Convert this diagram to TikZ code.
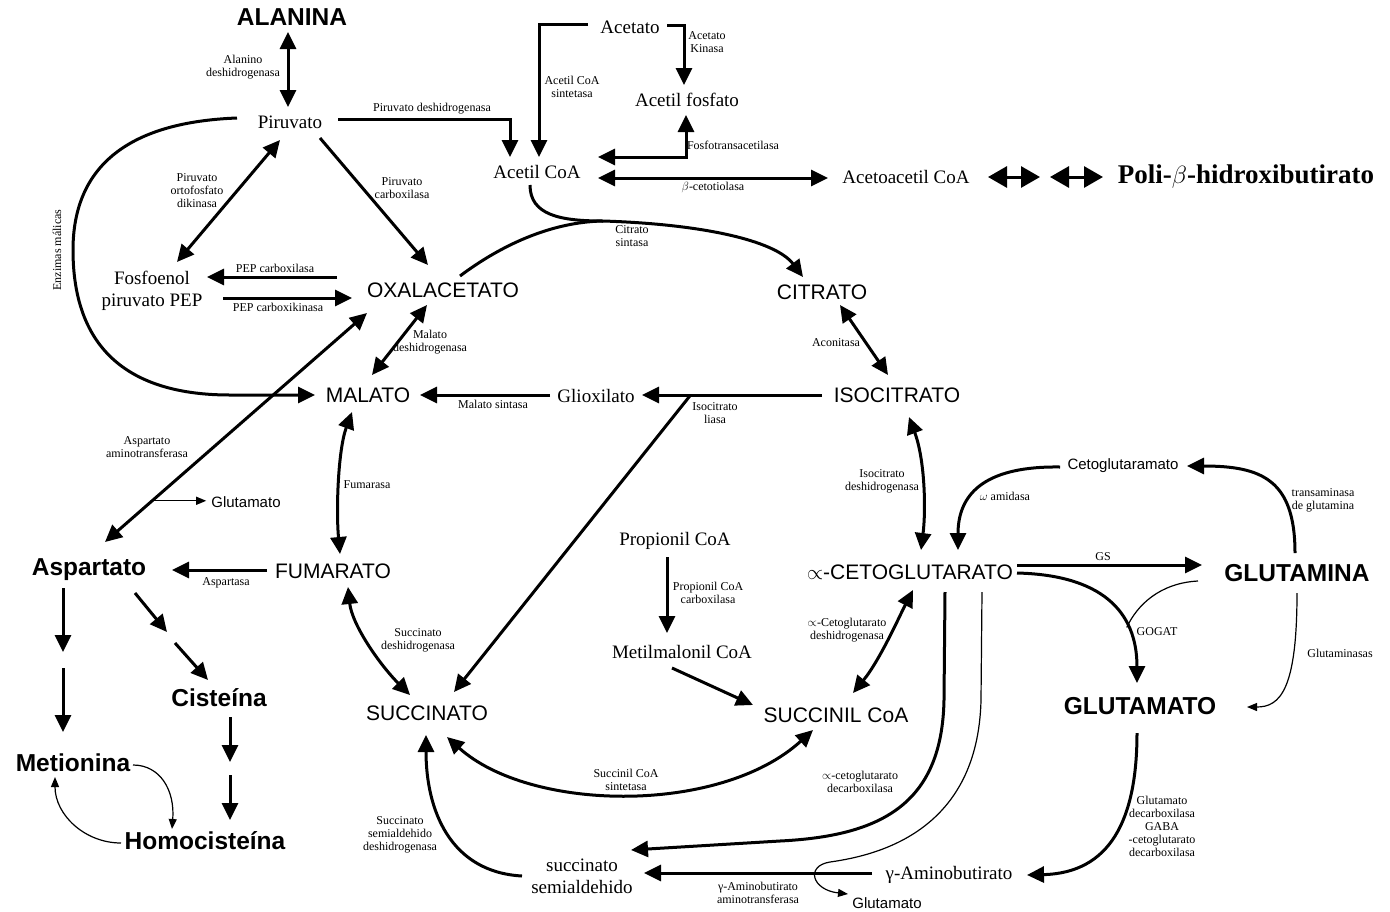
\documentclass[tikz,border=0pt]{standalone}
\usepackage{fontspec}
\setmainfont{Liberation Serif}
\setsansfont{Liberation Sans}
\usetikzlibrary{arrows.meta,calc}

\tikzset{
  metab/.style={font=\sffamily\fontsize{21}{24}\selectfont, inner sep=0pt},
  negrita/.style={font=\sffamily\bfseries\fontsize{24.5}{28}\selectfont, inner sep=0pt},
  serif/.style={font=\rmfamily\fontsize{19}{22}\selectfont, inner sep=0pt, align=center},
  chico/.style={font=\sffamily\fontsize{15}{17}\selectfont, inner sep=0pt},
  enzima/.style={font=\rmfamily\fontsize{12}{13}\selectfont, inner sep=0pt, align=center},
  linea/.style={line width=3pt},
  flecha/.style={line width=3pt, -{Triangle[length=17pt,width=16pt]}},
  doble/.style={line width=3pt, {Triangle[length=17pt,width=16pt]}-{Triangle[length=17pt,width=16pt]}},
  doblegrande/.style={line width=3pt, {Triangle[length=19pt,width=21pt]}-{Triangle[length=19pt,width=21pt]}},
  fina/.style={line width=1.2pt, -{Triangle[length=10pt,width=8pt]}}
}

\begin{document}
\begin{tikzpicture}[x=1pt,y=-1pt]
  \useasboundingbox (0,0) rectangle (1390,911);

  % Metabolitos
  \node[negrita] (ala) at (292,17) {ALANINA};
  \node[serif] (pir) at (290,122) {Piruvato};
  \node[serif] (acet) at (630,27) {Acetato};
  \node[serif] (afos) at (687,100) {Acetil fosfato};
  \node[serif] (acoa) at (537,172) {Acetil CoA};
  \node[serif] (aacoa) at (906,177) {Acetoacetil CoA};
  \node[font=\rmfamily\bfseries\fontsize{27}{30}\selectfont, inner sep=0pt] (phb) at (1246,177) {Poli-$\beta$-hidroxibutirato};
  \node[serif] (pep) at (152,291) {Fosfoenol\\piruvato PEP};
  \node[metab] (oxa) at (443,290) {OXALACETATO};
  \node[metab] (cit) at (822,292) {CITRATO};
  \node[metab] (mal) at (368,395) {MALATO};
  \node[serif] (glx) at (596,396) {Glioxilato};
  \node[metab] (iso) at (897,395) {ISOCITRATO};
  \node[chico] (glu1) at (246,502) {Glutamato};
  \node[negrita] (asp) at (89,570) {Aspartato};
  \node[metab] (fum) at (333,571) {FUMARATO};
  \node[serif] (prop) at (675,541) {Propionil CoA};
  \node[metab] (akg) at (910,572) {$\propto$-CETOGLUTARATO};
  \node[negrita] (gln) at (1297,573) {GLUTAMINA};
  \node[chico] (cgm) at (1123,466) {Cetoglutaramato};
  \node[negrita] (cis) at (219,698) {Cisteína};
  \node[negrita] (met) at (73,763) {Metionina};
  \node[negrita] (hcy) at (205,841) {Homocisteína};
  \node[metab] (suc) at (427,713) {SUCCINATO};
  \node[serif] (mmc) at (682,652) {Metilmalonil CoA};
  \node[metab] (scoa) at (836,715) {SUCCINIL CoA};
  \node[negrita] (glu) at (1140,706) {GLUTAMATO};
  \node[serif] (ssa) at (582,876) {succinato\\semialdehido};
  \node[serif] (gaba) at (949,875) {γ-Aminobutirato};
  \node[chico] (glu2) at (887,903) {Glutamato};

  % Enzimas
  \node[enzima] at (243,67) {Alanino\\deshidrogenasa};
  \node[enzima] at (432,109) {Piruvato deshidrogenasa};
  \node[enzima] at (707,42) {Acetato\\Kinasa};
  \node[enzima] at (572,87) {Acetil CoA\\sintetasa};
  \node[enzima] at (733,145) {Fosfotransacetilasa};
  \node[enzima] at (713,187) {$\beta$-cetotiolasa};
  \node[enzima] at (632,236) {Citrato\\sintasa};
  \node[enzima] at (197,191) {Piruvato\\ortofosfato\\dikinasa};
  \node[enzima] at (402,188) {Piruvato\\carboxilasa};
  \node[enzima, rotate=90] at (57,250) {Enzimas málicas};
  \node[enzima] at (275,268) {PEP carboxilasa};
  \node[enzima] at (278,307) {PEP carboxikinasa};
  \node[enzima] at (430,342) {Malato\\deshidrogenasa};
  \node[enzima] at (493,404) {Malato sintasa};
  \node[enzima] at (836,343) {Aconitasa};
  \node[enzima] at (715,413) {Isocitrato\\liasa};
  \node[enzima] at (882,481) {Isocitrato\\deshidrogenasa};
  \node[enzima] at (147,447) {Aspartato\\aminotransferasa};
  \node[enzima] at (367,485) {Fumarasa};
  \node[enzima] at (226,583) {Aspartasa};
  \node[enzima] at (708,593) {Propionil CoA\\carboxilasa};
  \node[enzima] at (847,630) {$\propto$-Cetoglutarato\\deshidrogenasa};
  \node[enzima] at (418,640) {Succinato\\deshidrogenasa};
  \node[enzima] at (626,780) {Succinil CoA\\sintetasa};
  \node[enzima] at (400,835) {Succinato\\semialdehido\\deshidrogenasa};
  \node[enzima] at (860,782) {$\propto$-cetoglutarato\\decarboxilasa};
  \node[enzima] at (758,893) {γ-Aminobutirato\\aminotransferasa};
  \node[enzima] at (1162,826) {Glutamato\\decarboxilasa\\GABA\\-cetoglutarato\\decarboxilasa};
  \node[enzima] at (1103,557) {GS};
  \node[enzima] at (1157,632) {GOGAT};
  \node[enzima] at (1340,653) {Glutaminasas};
  \node[enzima] at (1323,500) {transaminasa\\de glutamina};
  \node[enzima] at (1005,496) {$\omega$ amidasa};

  % Piruvato y acetil CoA
  \draw[doble] ($(ala)+(-4,15)$) -- ($(pir)+(-2,-15)$);
  \draw[flecha] ($(pir)+(48,-3)$) -| ($(acoa)+(-27,-15)$);
  \draw[flecha] ($(acet)+(-42,-3)$) -| ($(acoa)+(2,-15)$);
  \draw[flecha] ($(acet)+(37,-2)$) -| ($(afos)+(-3,-15)$);
  \draw[doble] ($(afos)+(-1,15)$) |- ($(acoa)+(61,-15)$);
  \draw[doble] ($(acoa)+(61,6)$) -- ($(aacoa)+(-78,1)$);
  \draw[doblegrande] ($(aacoa)+(82,0)$) -- ($(aacoa)+(134,0)$);
  \draw[doblegrande] ($(phb)+(-196,0)$) -- ($(phb)+(-143,0)$);

  % Citrato sintasa
  \coordinate (cs) at (603,221);
  \draw[flecha] ($(acoa)+(-7,13)$) .. controls (530,215) and (560,221) .. (cs)
    .. controls (700,224) and (775,240) .. ($(cit)+(-19,-15)$);
  \draw[linea] ($(oxa)+(17,-14)$) .. controls (500,246) and (550,222) .. (cs);

  % Piruvato, PEP y oxalacetato
  \draw[doble] ($(pir)+(-10,18)$) -- ($(pep)+(25,-29)$);
  \draw[flecha] ($(pir)+(30,16)$) -- ($(oxa)+(-15,-25)$);
  \draw[flecha] ($(pir)+(-53,-4)$) .. controls (130,122) and (73,165) .. (73,250)
    .. controls (73,350) and (130,395) .. (230,395) -- ($(mal)+(-53,0)$);
  \draw[flecha] ($(oxa)+(-106,-13)$) -- ($(pep)+(55,-14)$);
  \draw[flecha] ($(pep)+(71,7)$) -- ($(oxa)+(-91,8)$);
  \draw[doble] ($(asp)+(16,-28)$) -- coordinate[pos=0.18] (rama) ($(oxa)+(-76,23)$);
  \draw[fina] (rama) -- ($(rama -| glu1.west)+(-5,0)$);

  % Ciclo
  \draw[doble] ($(oxa)+(-16,15)$) -- ($(mal)+(4,-20)$);
  \draw[flecha] ($(glx)+(-46,-1)$) -- ($(mal)+(52,0)$);
  \draw[flecha] ($(iso)+(-75,0)$) -- coordinate[pos=0.73] (liasa) ($(glx)+(46,-1)$);
  \draw[flecha] (liasa) -- ($(suc)+(27,-21)$);
  \draw[doble] ($(cit)+(18,13)$) -- ($(iso)+(-9,-20)$);
  \draw[doble] ($(iso)+(12,22)$) .. controls (925,460) and (926,510) .. ($(akg)+(11,-22)$);
  \draw[doble] ($(mal)+(-16,17)$) .. controls (338,450) and (336,510) .. ($(fum)+(7,-17)$);
  \draw[flecha] ($(fum)+(-66,-1)$) -- ($(asp)+(83,0)$);
  \draw[doble] ($(fum)+(15,16)$) .. controls (352,625) and (380,665) .. ($(suc)+(-17,-18)$);
  \draw[doble] ($(akg)+(3,18)$) .. controls (900,615) and (880,660) .. ($(scoa)+(17,-22)$);
  \draw[doble] ($(suc)+(20,24)$) .. controls (530,812) and (720,815) .. ($(scoa)+(-23,15)$);

  % Aspartato y derivados
  \draw[flecha] ($(asp)+(-26,18)$) -- ($(asp)+(-26,82)$);
  \draw[flecha] ($(met)+(-10,-95)$) -- ($(met)+(-10,-31)$);
  \draw[flecha] ($(asp)+(46,23)$) -- ($(asp)+(78,62)$);
  \draw[flecha] ($(cis)+(-44,-55)$) -- ($(cis)+(-11,-18)$);
  \draw[flecha] ($(cis)+(11,19)$) -- ($(cis)+(11,64)$);
  \draw[flecha] ($(hcy)+(25,-66)$) -- ($(hcy)+(25,-21)$);
  \draw[fina] ($(met)+(60,2)$) .. controls (160,765) and (175,790) .. ($(hcy)+(-33,-12)$);
  \draw[fina] ($(hcy)+(-84,2)$) .. controls (85,843) and (55,815) .. ($(met)+(-18,14)$);

  % Propionil CoA
  \draw[flecha] ($(prop)+(-8,16)$) -- ($(mmc)+(-15,-19)$);
  \draw[flecha] ($(mmc)+(-10,16)$) -- ($(scoa)+(-83,-10)$);

  % Derivacion GABA
  \draw[flecha] ($(ssa)+(-60,0)$) .. controls (450,872) and (426,810) .. ($(suc)+(-1,22)$);
  \draw[flecha] ($(akg)+(35,20)$) -- (944,700) .. controls (942,805) and (880,836) .. (780,841)
    -- ($(ssa)+(49,-26)$);
  \draw[fina] ($(akg)+(72,20)$) -- (981,700) .. controls (978,830) and (880,855) .. (830,862)
    .. controls (805,866) and (812,890) .. ($(glu2)+(-39,-9)$);
  \draw[flecha] ($(gaba)+(-77,-2)$) -- ($(ssa)+(62,-3)$);
  \draw[flecha] ($(glu)+(-3,27)$) .. controls (1137,820) and (1110,873) .. ($(gaba)+(78,0)$);

  % Glutamina y glutamato
  \draw[flecha] ($(akg)+(107,-7)$) -- ($(gln)+(-95,-8)$);
  \draw[flecha] ($(akg)+(107,1)$) .. controls (1100,575) and (1137,610) .. coordinate[pos=0.7] (gogat)
    ($(glu)+(-3,-23)$);
  \draw[line width=1.2pt] ($(gln)+(-99,8)$) .. controls (1160,583) and (1137,605) .. (gogat);
  \draw[fina] ($(gln)+(0,20)$) .. controls (1297,690) and (1280,707) .. ($(glu)+(107,1)$);
  \draw[flecha] ($(gln)+(-2,-20)$) .. controls (1295,480) and (1262,466) .. ($(cgm)+(64,0)$);
  \draw[flecha] ($(cgm)+(-63,1)$) .. controls (990,466) and (958,490) .. ($(akg)+(48,-22)$);
\end{tikzpicture}
\end{document}
